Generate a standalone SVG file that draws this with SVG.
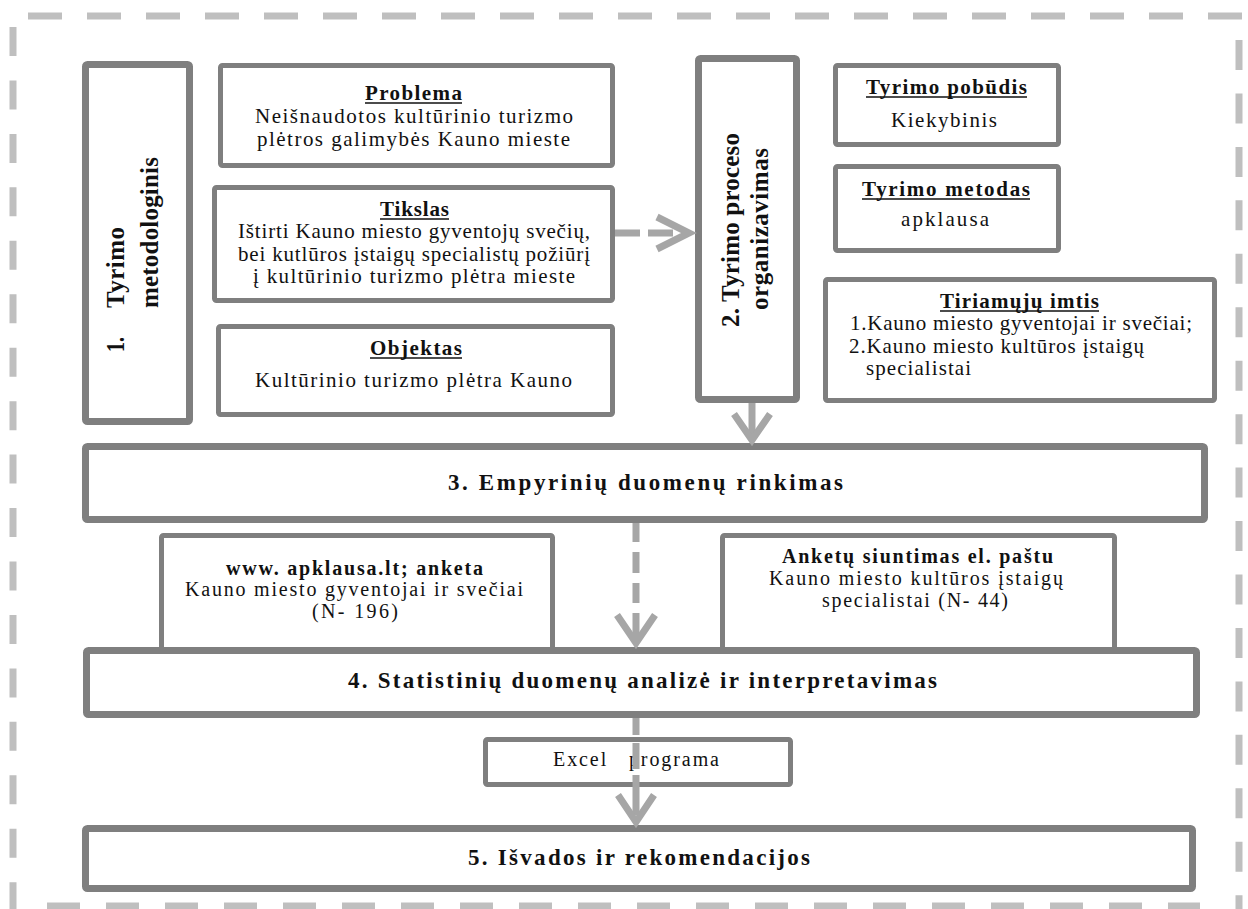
<svg xmlns="http://www.w3.org/2000/svg" width="1248" height="909" viewBox="0 0 1248 909">
<style>
.bg{fill:#ffffff}
.box{fill:#ffffff;stroke:#7f7f7f;stroke-linejoin:round}
.w7{stroke-width:7}
.w5{stroke-width:5}
.t{font-family:"Liberation Serif","Times New Roman",serif;fill:#111;text-anchor:middle;font-size:21px}
.s{text-anchor:start}
.b{font-weight:bold}
.h{font-size:21px;font-weight:bold}
.ul{stroke:#111;stroke-width:1.6}
.big{font-size:23px;font-weight:bold}
.sm{font-size:20px}
.v{font-size:25px;font-weight:bold}
.border{stroke:#bfbfbf;stroke-width:7;fill:none}
.shaft{stroke:#a6a6a6;stroke-width:7;fill:none}
.chev{stroke:#a6a6a6;stroke-width:7;fill:none;stroke-linejoin:miter}
</style>
<rect class="bg" x="0" y="0" width="1248" height="909"/>
<g id="frame">
<line class="border" x1="28" y1="16" x2="1242" y2="16" stroke-dasharray="34 25"/>
<line class="border" x1="47" y1="906" x2="1200" y2="906" stroke-dasharray="33 26"/>
<line class="border" x1="13" y1="27" x2="13" y2="909" stroke-dasharray="29 24.45"/>
<line class="border" x1="1239" y1="40" x2="1239" y2="909" stroke-dasharray="30 23.45"/>
</g>
<g id="n1">
<rect class="box w7" x="85.5" y="64.5" width="104" height="357" rx="2"/>
<text class="t v s" transform="translate(124,352) rotate(-90)" textLength="15" lengthAdjust="spacingAndGlyphs">1.</text>
<text class="t v s" transform="translate(124,308) rotate(-90)" textLength="81" lengthAdjust="spacing">Tyrimo</text>
<text class="t v s" transform="translate(158,308) rotate(-90)" textLength="151" lengthAdjust="spacing">metodologinis</text>
</g>
<g id="problema">
<rect class="box w5" x="220.5" y="65.5" width="392" height="100" rx="2"/>
<text class="t h" x="413.5" y="100" textLength="97" lengthAdjust="spacing">Problema</text>
<line class="ul" x1="365" y1="103" x2="462" y2="103"/>
<text class="t" x="414" y="123" textLength="318" lengthAdjust="spacing">Neišnaudotos kultūrinio turizmo</text>
<text class="t" x="413.5" y="146" textLength="313" lengthAdjust="spacing">plėtros galimybės Kauno mieste</text>
</g>
<g id="tikslas">
<rect class="box w5" x="214.5" y="187.5" width="398" height="113" rx="2"/>
<text class="t h" x="414.5" y="216" textLength="69" lengthAdjust="spacing">Tikslas</text>
<line class="ul" x1="380" y1="219" x2="449" y2="219"/>
<text class="t" x="414" y="238" textLength="352" lengthAdjust="spacing">Ištirti Kauno miesto gyventojų svečių,</text>
<text class="t" x="414" y="261" textLength="352" lengthAdjust="spacing">bei kutlūros įstaigų specialistų požiūrį</text>
<text class="t" x="414" y="283" textLength="322" lengthAdjust="spacing">į kultūrinio turizmo plėtra mieste</text>
</g>
<g id="objektas">
<rect class="box w5" x="218.5" y="326.5" width="394" height="88" rx="2"/>
<text class="t h" x="416" y="355" textLength="92" lengthAdjust="spacing">Objektas</text>
<line class="ul" x1="370" y1="358" x2="462" y2="358"/>
<text class="t" x="413.5" y="387" textLength="317" lengthAdjust="spacing">Kultūrinio turizmo plėtra Kauno</text>
</g>
<g id="n2">
<rect class="box w7" x="698.5" y="58.5" width="98" height="341" rx="2"/>
<text class="t v" transform="translate(739,230) rotate(-90)" textLength="194" lengthAdjust="spacing">2. Tyrimo proceso</text>
<text class="t v" transform="translate(768,229) rotate(-90)" textLength="162" lengthAdjust="spacing">organizavimas</text>
</g>
<g id="pobudis">
<rect class="box w5" x="835.5" y="65.5" width="223" height="79" rx="2"/>
<text class="t h" x="946.5" y="94" textLength="161" lengthAdjust="spacing">Tyrimo pobūdis</text>
<line class="ul" x1="866" y1="97" x2="1027" y2="97"/>
<text class="t" x="944" y="127" textLength="106" lengthAdjust="spacing">Kiekybinis</text>
</g>
<g id="metodas">
<rect class="box w5" x="835.5" y="166.5" width="223" height="84" rx="2"/>
<text class="t h" x="946" y="196" textLength="168" lengthAdjust="spacing">Tyrimo metodas</text>
<line class="ul" x1="862" y1="199" x2="1030" y2="199"/>
<text class="t" x="945" y="226" textLength="88" lengthAdjust="spacing">apklausa</text>
</g>
<g id="imtis">
<rect class="box w5" x="825.5" y="279.5" width="389" height="121" rx="2"/>
<text class="t h" x="1019.5" y="308" textLength="159" lengthAdjust="spacing">Tiriamųjų imtis</text>
<line class="ul" x1="940" y1="311" x2="1099" y2="311"/>
<text class="t s" x="850" y="330" textLength="342" lengthAdjust="spacing">1.Kauno miesto gyventojai ir svečiai;</text>
<text class="t s" x="849" y="353" textLength="295" lengthAdjust="spacing">2.Kauno miesto kultūros įstaigų</text>
<text class="t s" x="866" y="375" textLength="105" lengthAdjust="spacing">specialistai</text>
</g>
<g id="n3">
<rect class="box w7" x="85.5" y="446.5" width="1119" height="73" rx="2"/>
<text class="t big" x="645.5" y="490" textLength="395" lengthAdjust="spacing">3. Empyrinių duomenų rinkimas</text>
</g>
<g id="apklausa">
<rect class="box w5" x="161.5" y="535.5" width="391" height="120" rx="2"/>
<text class="t sm b" x="354.5" y="575" textLength="257" lengthAdjust="spacing">www. apklausa.lt; anketa</text>
<text class="t sm" x="354" y="596" textLength="338" lengthAdjust="spacing">Kauno miesto gyventojai ir svečiai</text>
<text class="t sm" x="355" y="618" textLength="86" lengthAdjust="spacing">(N- 196)</text>
</g>
<g id="siuntimas">
<rect class="box w5" x="722.5" y="535.5" width="392" height="120" rx="2"/>
<text class="t sm b" x="917.5" y="563" textLength="271" lengthAdjust="spacing">Anketų siuntimas  el. paštu</text>
<text class="t sm" x="916" y="585" textLength="294" lengthAdjust="spacing">Kauno miesto kultūros įstaigų</text>
<text class="t sm" x="915" y="607" textLength="186" lengthAdjust="spacing">specialistai (N- 44)</text>
</g>
<g id="n4">
<rect class="box w7" x="86.5" y="650.5" width="1110" height="64" rx="2"/>
<text class="t big" x="642.5" y="688" textLength="589" lengthAdjust="spacing">4. Statistinių duomenų analizė ir interpretavimas</text>
</g>
<g id="excel">
<rect class="box w5" x="485.5" y="739.5" width="305" height="45" rx="2"/>
<text class="t sm" x="636" y="766" textLength="166" lengthAdjust="spacing" xml:space="preserve">Excel   programa</text>
</g>
<g id="n5">
<rect class="box w7" x="85.5" y="828.5" width="1107" height="60" rx="2"/>
<text class="t big" x="639" y="865" textLength="342" lengthAdjust="spacing">5. Išvados ir rekomendacijos</text>
</g>
<g id="connectors">
<line class="shaft" x1="615" y1="233" x2="686" y2="233" stroke-dasharray="25 8"/>
<polyline class="chev" points="657,217 689,233 657,249"/>
<line class="shaft" x1="752" y1="403" x2="752" y2="438"/>
<polyline class="chev" points="734,414 752,440 770,414"/>
<line class="shaft" x1="636" y1="523" x2="636" y2="640" stroke-dasharray="19 10 21 10 20 10 40"/>
<polyline class="chev" points="617,615 636,643 655,615"/>
<line class="shaft" x1="636" y1="718" x2="636" y2="818" stroke-dasharray="17 8 26 6 40"/>
<polyline class="chev" points="618,795 636,822 654,795"/>
</g>
</svg>
